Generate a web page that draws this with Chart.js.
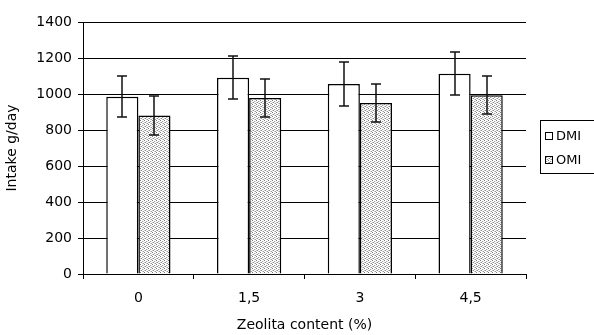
<!DOCTYPE html>
<html>
<head>
<meta charset="utf-8">
<script src="https://cdn.jsdelivr.net/npm/chart.js@4/dist/chart.umd.min.js"></script>
<style>
  html, body { margin: 0; padding: 0; background: #fff; }
  #wrap { width: 594px; height: 335px; position: relative; }
</style>
</head>
<body>
<div id="wrap"><canvas id="chart"></canvas></div>
<script>
const zeolitaLabels = ["0", "1,5", "3", "4,5"];
const dmiValues = [985, 1090, 1055, 1112];
const dmiErrors = [115, 120, 121, 120];
const omiValues = [880, 978, 950, 993];
const omiErrors = [107, 107, 106, 105];
const yTicks = [0, 200, 400, 600, 800, 1000, 1200, 1400];

const FONT = "'DejaVu Sans', Verdana, sans-serif";

// stippled fill like the old excel pattern
function makeStipple() {
  const c = document.createElement("canvas");
  c.width = 4;
  c.height = 4;
  const g = c.getContext("2d");
  g.fillStyle = "#fff";
  g.fillRect(0, 0, 4, 4);
  const dots = [[0, 0, "#7a7a7a"], [2, 1, "#a0a0a0"], [1, 2, "#8c8c8c"], [3, 3, "#9a9a9a"], [2, 3, "#d0d0d0"], [0, 2, "#c8c8c8"], [3, 1, "#e0e0e0"]];
  dots.forEach(([x, y, col]) => {
    g.fillStyle = col;
    g.fillRect(x, y, 1, 1);
  });
  return g.createPattern(c, "repeat");
}

const errorBars = {
  id: "errorBars",
  afterDatasetsDraw(chart) {
    const ctx = chart.ctx;
    const yScale = chart.scales.y;
    const errs = [dmiErrors, omiErrors];
    ctx.save();
    ctx.strokeStyle = "#111";
    ctx.lineWidth = 1.5;
    chart.data.datasets.forEach((ds, i) => {
      const meta = chart.getDatasetMeta(i);
      meta.data.forEach((bar, j) => {
        const v = ds.data[j];
        const x = Math.round(bar.x);
        const top = Math.round(yScale.getPixelForValue(v + errs[i][j]));
        const bot = Math.round(yScale.getPixelForValue(v - errs[i][j]));
        ctx.beginPath();
        ctx.moveTo(x, top);
        ctx.lineTo(x, bot);
        ctx.moveTo(x - 5, top);
        ctx.lineTo(x + 5, top);
        ctx.moveTo(x - 5, bot);
        ctx.lineTo(x + 5, bot);
        ctx.stroke();
      });
    });
    ctx.restore();
  },
};

const boxLegend = {
  id: "boxLegend",
  afterDraw(chart) {
    const ctx = chart.ctx;
    ctx.save();
    ctx.strokeStyle = "#000";
    ctx.lineWidth = 1;
    ctx.strokeRect(540.5, 120.5, 60, 53);
    ctx.font = "13px " + FONT;
    ctx.textBaseline = "middle";
    const rows = [136, 160];
    chart.data.datasets.forEach((ds, i) => {
      const y = rows[i];
      ctx.fillStyle = ds.backgroundColor;
      ctx.fillRect(545, y - 4, 8, 8);
      ctx.strokeRect(545.5, y - 3.5, 7, 7);
      ctx.fillStyle = "#000";
      ctx.fillText(ds.label, 556, y + 1);
    });
    ctx.restore();
  },
};

new Chart(document.getElementById("chart"), {
  type: "bar",
  data: {
    labels: zeolitaLabels,
    datasets: [
      {
        label: "DMI",
        data: dmiValues,
        backgroundColor: "#ffffff",
        borderColor: "#000",
        borderWidth: 1.5,
      },
      {
        label: "OMI",
        data: omiValues,
        backgroundColor: makeStipple(),
        borderColor: "#000",
        borderWidth: 1.5,
      },
    ],
  },
  options: {
    responsive: true,
    maintainAspectRatio: false,
    animation: false,
    datasets: {
      bar: { categoryPercentage: 0.58, barPercentage: 1.0 },
    },
    layout: { padding: { top: 22, right: 68, left: 0, bottom: 0 } },
    plugins: {
      legend: { display: false },
      tooltip: { enabled: false },
    },
    scales: {
      x: {
        grid: {
          drawOnChartArea: false,
          drawTicks: true,
          tickLength: 5,
          color: "#000",
        },
        border: { color: "#000" },
        ticks: { color: "#000", font: { family: FONT, size: 14 }, padding: 11 },
        title: {
          display: true,
          text: "Zeolita content (%)",
          color: "#000",
          font: { family: FONT, size: 14 },
          padding: { top: 4, bottom: 1 },
        },
        afterFit(scale) {
          scale.height = 61;
        },
      },
      y: {
        min: 0,
        max: 1400,
        afterBuildTicks(scale) {
          scale.ticks = yTicks.map((v) => ({ value: v }));
        },
        grid: { color: "#000", tickLength: 5 },
        border: { color: "#000" },
        ticks: {
          color: "#000",
          font: { family: FONT, size: 14 },
          padding: 6,
          callback: (v) => String(v),
        },
        title: {
          display: true,
          text: "Intake g/day",
          color: "#000",
          font: { family: FONT, size: 14 },
          padding: { top: 4, bottom: 0 },
        },
        afterFit(scale) {
          scale.width = 83;
        },
      },
    },
  },
  plugins: [errorBars, boxLegend],
});
</script>
</body>
</html>
